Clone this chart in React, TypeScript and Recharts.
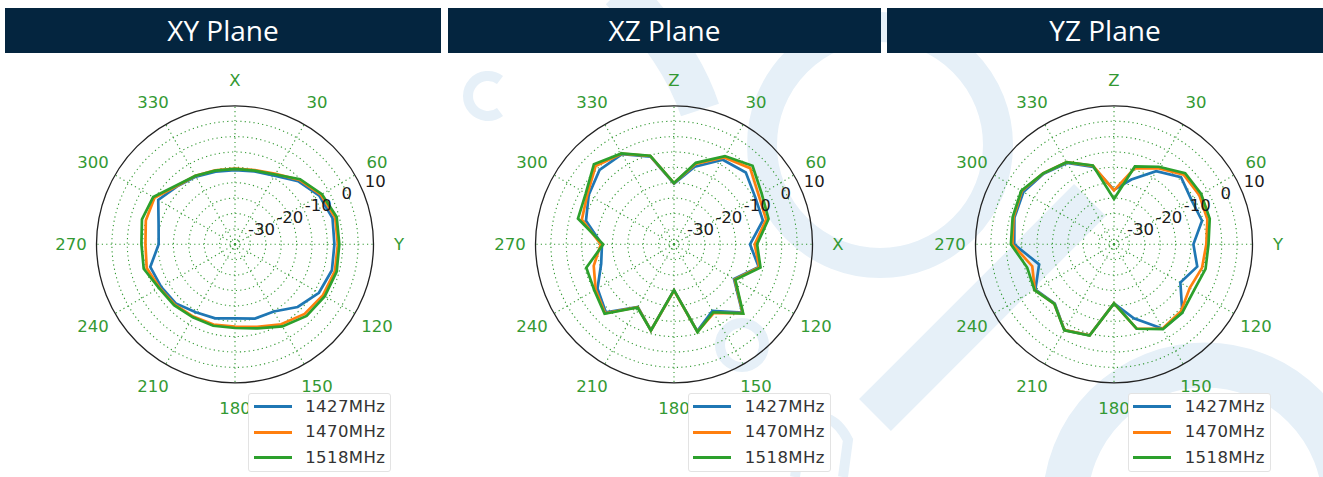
import React from 'react';
import { RadarChart, Radar, PolarGrid, PolarAngleAxis, PolarRadiusAxis } from 'recharts';

// ---------- data ----------
const angles = [0, 15, 30, 45, 60, 75, 90, 105, 120, 135, 150, 165, 180, 195, 210, 225, 240, 255, 270, 285, 300, 315, 330, 345];
const seriesNames = ['1427MHz', '1470MHz', '1518MHz'];
const radiusTicks = [-30, -20, -10, 0, 10];

const xy1427 = [-15.9, -15.5, -14.3, -11.0, -8.4, -7.2, -7.7, -7.4, -8.5, -11.2, -14.8, -15.0, -15.9, -15.1, -14.5, -12.8, -12.3, -11.5, -15.2, -14.3, -11.2, -13.4, -14.6, -15.6];
const xy1470 = [-15.4, -15.0, -13.6, -10.4, -7.8, -6.3, -6.6, -6.4, -7.0, -8.0, -10.0, -12.2, -13.3, -13.0, -12.9, -12.3, -11.7, -10.3, -10.9, -10.0, -9.8, -13.2, -14.3, -15.1];
const xy1518 = [-15.5, -15.2, -13.8, -10.1, -7.4, -5.8, -6.1, -5.8, -6.3, -7.1, -9.2, -11.7, -12.8, -12.6, -12.6, -12.0, -11.5, -9.3, -9.6, -8.7, -9.3, -13.0, -14.3, -15.2];

const xz1427 = [-20.3, -13.9, -8.3, -7.0, -9.5, -10.1, -15.3, -11.5, -17.5, -8.6, -15.0, -10.8, -25.1, -11.0, -16.5, -8.7, -11.3, -15.5, -16.6, -10.4, -8.0, -5.8, -6.2, -10.5];
const xz1470 = [-20.1, -13.0, -7.4, -5.0, -8.2, -9.0, -13.8, -11.3, -17.2, -8.4, -14.2, -10.6, -25.0, -11.0, -16.4, -8.3, -10.6, -13.0, -16.2, -9.0, -7.5, -4.0, -6.0, -10.3];
const xz1518 = [-20.1, -12.6, -6.9, -3.9, -7.1, -8.2, -13.0, -10.9, -17.0, -8.2, -14.5, -10.5, -25.1, -11.0, -16.3, -8.1, -10.1, -10.5, -17.0, -7.7, -6.9, -3.2, -5.9, -10.2];

const yz1427 = [-22.3, -18.2, -12.6, -9.2, -11.0, -10.4, -14.2, -12.0, -15.1, -8.6, -8.3, -15.1, -20.8, -9.4, -7.8, -12.8, -10.5, -14.8, -7.6, -6.5, -6.0, -7.6, -9.5, -14.0];
const yz1470 = [-22.5, -14.5, -11.4, -8.0, -8.0, -8.6, -10.0, -10.4, -11.6, -9.2, -8.4, -11.6, -20.8, -9.4, -7.8, -12.6, -10.3, -12.5, -7.0, -6.2, -5.4, -7.4, -9.2, -13.6];
const yz1518 = [-25.3, -13.8, -10.9, -7.3, -7.3, -7.8, -9.3, -9.2, -10.0, -8.6, -8.2, -11.6, -20.8, -9.3, -7.7, -12.6, -10.2, -10.8, -6.5, -5.9, -5.2, -7.4, -9.2, -13.5];

const panelTitles = ['XY Plane', 'XZ Plane', 'YZ Plane'];
const axisNamesXY = { 0: 'X', 90: 'Y' } as Record<number, string>;
const axisNamesXZ = { 0: 'Z', 90: 'X' } as Record<number, string>;
const axisNamesYZ = { 0: 'Z', 90: 'Y' } as Record<number, string>;

// ---------- styling ----------
const COLORS = ['#1f77b4', '#ff7f0e', '#2ca02c'];
const GREEN = '#339933';
const NAVY = '#04253f';
const WM = '#e6f0f8';
const CW = 460;
const CH = 424;
const CX = 230;
const CY = 191.3;
const OUTER = 138.5;
const ringRadii = [5, 15.4, 30.8, 46.2, 61.6, 77, 92.3, 107.7, 123.1];
const gridAngles = [90, 60, 30, 0, -30, -60, -90, -120, -150, -180, -210, -240];

const buildData = (a: number[], b: number[], c: number[]) =>
  angles.map((ang, i) => ({ angle: ang, s0: a[i], s1: b[i], s2: c[i] }));

const makeAngleTick = (names: Record<number, string>) => (props: any) => {
  const { x, y, payload } = props;
  const deg = Number(payload.value);
  if (deg % 30 !== 0) return <g />;
  const dx = x - CX;
  const dy = y - CY;
  const len = Math.sqrt(dx * dx + dy * dy) || 1;
  const r = 164;
  const tx = CX + (dx / len) * r;
  const ty = CY + (dy / len) * r;
  const label = names[deg] !== undefined ? names[deg] : String(deg);
  return (
    <text x={tx} y={ty} textAnchor="middle" dominantBaseline="central" fill={GREEN}
      fontFamily="'DejaVu Sans', sans-serif" fontSize={16.5}>{label}</text>
  );
};

const RadiusTick = (props: any) => {
  const { x, y, payload } = props;
  return (
    <text x={x - 2} y={y - 3.5} textAnchor="middle" dominantBaseline="central" fill="#1a1a1a"
      fontFamily="'DejaVu Sans', sans-serif" fontSize={16.5}>{payload.value}</text>
  );
};

type PanelProps = { left: number; names: Record<number, string>; data: any[] };

const Panel = ({ left, names, data }: PanelProps) => (
  <div style={{ position: 'absolute', left, top: 53, width: CW, height: CH, zIndex: 2 }}>
    <RadarChart width={CW} height={CH} data={data} cx={CX} cy={CY} outerRadius={OUTER}
      innerRadius={0} margin={{ top: 0, right: 0, bottom: 0, left: 0 }}>
      <PolarGrid gridType="circle" polarRadius={ringRadii} polarAngles={gridAngles}
        stroke={GREEN} strokeDasharray="1.2 3.2" strokeWidth={1.1} />
      <PolarGrid gridType="circle" polarRadius={[OUTER]} polarAngles={[]} radialLines={false}
        stroke="#222" strokeWidth={1.3} />
      <PolarAngleAxis dataKey="angle" tick={makeAngleTick(names)} tickLine={false} axisLine={false} />
      <PolarRadiusAxis angle={22.5} domain={[-40, 5]} ticks={radiusTicks} allowDataOverflow
        tick={RadiusTick} axisLine={false} tickLine={false} />
      {['s0', 's1', 's2'].map((k, i) => (
        <Radar key={k} name={seriesNames[i]} dataKey={k} stroke={COLORS[i]} strokeWidth={2.7}
          fill="none" fillOpacity={0} dot={false} isAnimationActive={false} />
      ))}
    </RadarChart>
  </div>
);

const LegendBox = ({ left }: { left: number }) => (
  <div style={{
    position: 'absolute', left, top: 392.5, width: 143, height: 79, background: '#fff',
    border: '1px solid #e3e3e3', borderRadius: 3, zIndex: 5, boxSizing: 'border-box',
  }}>
    {seriesNames.map((n, i) => (
      <div key={n} style={{ position: 'absolute', left: 0, top: i * 25.5, height: 26, width: 141 }}>
        <div style={{ position: 'absolute', left: 4.5, top: 11.5, width: 38, height: 3, background: COLORS[i] }} />
        <div style={{
          position: 'absolute', left: 56, top: 0, lineHeight: '26px', fontSize: 16.5,
          fontFamily: "'DejaVu Sans', sans-serif", color: '#333', letterSpacing: 0.4,
        }}>{n}</div>
      </div>
    ))}
  </div>
);

const Header = ({ left, width, title }: { left: number; width: number; title: string }) => (
  <div style={{
    position: 'absolute', left, top: 8, width, height: 45, background: NAVY, color: '#fff',
    fontFamily: "'Open Sans', sans-serif", fontSize: 28, lineHeight: '45px', textAlign: 'center', zIndex: 3,
  }}>{title}</div>
);

const Watermark = () => (
  <svg width={1323} height={477} style={{ position: 'absolute', left: 0, top: 0, zIndex: 1 }}>
    <circle cx={880} cy={145} r={118} fill="none" stroke={WM} strokeWidth={30} />
    <path d="M 620 -10 Q 680 50 700 110" fill="none" stroke={WM} strokeWidth={40} />
    <path d="M 875 415 L 1090 200" fill="none" stroke={WM} strokeWidth={45} />
    <circle cx={1205} cy={505} r={140} fill="none" stroke={WM} strokeWidth={45} />
    <path d="M 500 80 A 20 20 0 1 0 500 112" fill="none" stroke={WM} strokeWidth={10} />
    <circle cx={742} cy={345} r={22} fill="none" stroke={WM} strokeWidth={10} />
    <path d="M 795 477 L 802 425 Q 830 405 848 440 L 843 477" fill="none" stroke={WM} strokeWidth={10} />
  </svg>
);

export default function App() {
  const centers = [234.8, 674.3, 1114.3];
  const nameSets = [axisNamesXY, axisNamesXZ, axisNamesYZ];
  const datasets = [buildData(xy1427, xy1470, xy1518), buildData(xz1427, xz1470, xz1518), buildData(yz1427, yz1470, yz1518)];
  const headers = [[5, 436], [448, 433], [887, 436]];
  return (
    <div style={{ position: 'absolute', left: 0, top: 0, width: 1323, height: 477, background: '#fff', overflow: 'hidden' }}>
      <Watermark />
      {headers.map((h, i) => <Header key={i} left={h[0]} width={h[1]} title={panelTitles[i]} />)}
      {centers.map((c, i) => <Panel key={i} left={c - CX} names={nameSets[i]} data={datasets[i]} />)}
      {centers.map((c, i) => <LegendBox key={i} left={c + 13.4} />)}
    </div>
  );
}
